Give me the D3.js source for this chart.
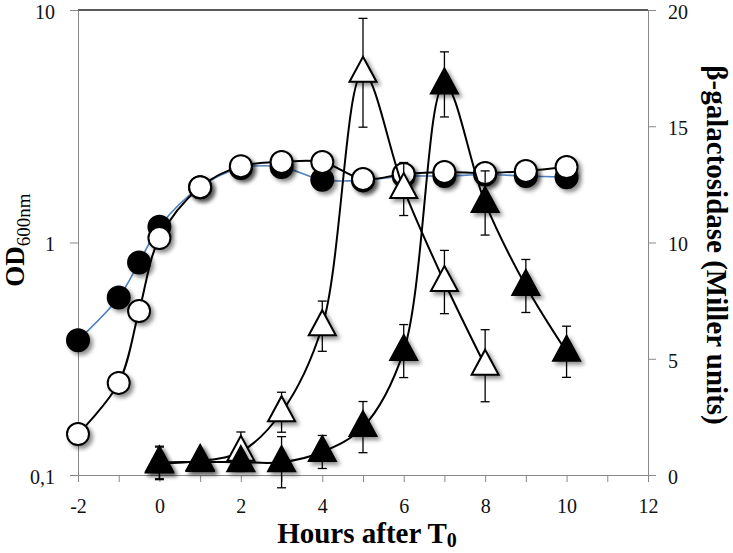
<!DOCTYPE html>
<html>
<head>
<meta charset="utf-8">
<script src="https://cdn.jsdelivr.net/npm/d3@7"></script>
<style>
  body { margin: 0; background: #fff; }
  text { font-family: "Liberation Serif", "Times New Roman", serif; }
</style>
</head>
<body>
<div id="chart"></div>
<script>
// hours after T0
var hoursOD = [-2, -1, -0.5, 0, 1, 2, 3, 4, 5, 6, 7, 8, 9, 10];
var odFilled = [0.38, 0.58, 0.82, 1.17, 1.73, 2.09, 2.11, 1.86, 1.85, 1.93, 1.93, 1.96, 1.93, 1.91];
var odOpen = [0.150, 0.249, 0.507, 1.045, 1.73, 2.13, 2.22, 2.22, 1.875, 1.97, 2.01, 1.99, 2.03, 2.11];

// beta-galactosidase (Miller units)
var hoursOpenTri = [0, 1, 2, 3, 4, 5, 6, 7, 8];
var galOpen = [0.5, 0.6, 1.0, 2.7, 6.4, 17.3, 12.3, 8.3, 4.7];
var galOpenErr = [0.7, 0.3, 0.85, 0.86, 1.08, 2.34, 1.14, 1.36, 1.55];
var hoursFilledTri = [0, 1, 2, 3, 4, 5, 6, 7, 8, 9, 10];
var galFilled = [0.54, 0.56, 0.55, 0.55, 0.99, 2.06, 5.33, 16.8, 11.7, 8.13, 5.3];
var galFilledErr = [0.7, 0.2, 0.3, 1.1, 0.71, 1.1, 1.14, 1.4, 1.38, 1.14, 1.1];

var xTicks = [-2, 0, 2, 4, 6, 8, 10, 12];
var xMinor = d3.range(-2, 13, 1);
var leftTicks = [0.1, 1, 10];
var leftLabels = ["0,1", "1", "10"];
var rightTicks = [0, 5, 10, 15, 20];

var width = 733, height = 553;
var plotL = 78, plotR = 648, plotT = 10, plotB = 475;

var svg = d3.select("#chart").append("svg")
  .attr("width", width)
  .attr("height", height);

var defs = svg.append("defs");
var f = defs.append("filter").attr("id", "shadow")
  .attr("x", "-50%").attr("y", "-50%").attr("width", "200%").attr("height", "200%");
f.append("feGaussianBlur").attr("in", "SourceAlpha").attr("stdDeviation", 2).attr("result", "b");
f.append("feOffset").attr("in", "b").attr("dx", 3).attr("dy", 3).attr("result", "o");
f.append("feComponentTransfer").attr("in", "o").attr("result", "s")
  .append("feFuncA").attr("type", "linear").attr("slope", 0.45);
var m = f.append("feMerge");
m.append("feMergeNode").attr("in", "s");
m.append("feMergeNode").attr("in", "SourceGraphic");

var x = d3.scaleLinear().domain([-2, 12]).range([plotL, plotR]);
var yL = d3.scaleLog().domain([0.1, 10]).range([plotB, plotT]);
var yR = d3.scaleLinear().domain([0, 20]).range([plotB, plotT]);

// top border
svg.append("line")
  .attr("x1", plotL).attr("x2", plotR).attr("y1", plotT).attr("y2", plotT)
  .attr("stroke", "#222").attr("stroke-width", 1.5);

// bottom axis
var gx = svg.append("g").attr("transform", "translate(0," + plotB + ")")
  .call(d3.axisBottom(x).tickValues(xMinor).tickSize(7).tickSizeOuter(0)
    .tickFormat(function (d) { return xTicks.indexOf(d) >= 0 ? d : ""; }));
gx.selectAll("text").attr("dy", "1.4em");

// left axis
var gl = svg.append("g").attr("transform", "translate(" + plotL + ",0)")
  .call(d3.axisLeft(yL).tickValues(leftTicks).tickSize(8).tickSizeOuter(0)
    .tickFormat(function (d, i) { return leftLabels[i]; }));
gl.selectAll("text").attr("x", -23).attr("dy", "0.42em");

// right axis
var gr = svg.append("g").attr("transform", "translate(" + plotR + ",0)")
  .call(d3.axisRight(yR).tickValues(rightTicks).tickSize(8).tickSizeOuter(0));
gr.selectAll("text").attr("x", 20).attr("dy", "0.42em");

svg.selectAll(".domain, .tick line").attr("stroke", "#888").attr("stroke-width", 1);
svg.selectAll(".tick text").style("font-size", "20px").attr("fill", "#111")
  .style("font-family", "'Liberation Serif', serif");

// axis titles
var xt = svg.append("text")
  .attr("x", 367).attr("y", 543)
  .attr("text-anchor", "middle")
  .style("font-size", "29px").style("font-weight", "bold")
  .text("Hours after T");
xt.append("tspan").attr("dy", 4).style("font-size", "20px").text("0");

var yt = svg.append("text")
  .attr("transform", "translate(24,240) rotate(-90)")
  .attr("text-anchor", "middle")
  .style("font-size", "27px").style("font-weight", "bold")
  .text("OD");
yt.append("tspan").attr("dy", 6).style("font-size", "19px").style("font-weight", "normal").text("600nm");

svg.append("text")
  .attr("transform", "translate(707,245) rotate(90)")
  .attr("text-anchor", "middle")
  .style("font-size", "29px").style("font-weight", "bold")
  .text("β-galactosidase (Miller units)");

var curve = d3.curveCatmullRom.alpha(0.5);

function circleSeries(xs, ys, lineColor, lineW, fill) {
  var pts = xs.map(function (h, i) { return [h, ys[i]]; });
  var g = svg.append("g");
  g.append("path")
    .attr("d", d3.line().curve(curve).x(function (d) { return x(d[0]); }).y(function (d) { return yL(d[1]); })(pts))
    .attr("fill", "none").attr("stroke", lineColor).attr("stroke-width", lineW);
  g.selectAll("circle").data(pts).enter().append("circle")
    .attr("cx", function (d) { return x(d[0]); })
    .attr("cy", function (d) { return yL(d[1]); })
    .attr("r", 11)
    .attr("fill", fill).attr("stroke", "#000").attr("stroke-width", 2)
    .attr("filter", "url(#shadow)");
}

function triSeries(xs, ys, errs, fill) {
  var pts = xs.map(function (h, i) { return [h, ys[i], errs[i]]; });
  var g = svg.append("g");
  g.append("path")
    .attr("d", d3.line().curve(curve).x(function (d) { return x(d[0]); }).y(function (d) { return yR(d[1]); })(pts))
    .attr("fill", "none").attr("stroke", "#000").attr("stroke-width", 2);
  var eb = g.selectAll(".err").data(pts).enter().append("g");
  eb.append("line")
    .attr("x1", function (d) { return x(d[0]); }).attr("x2", function (d) { return x(d[0]); })
    .attr("y1", function (d) { return yR(d[1] + d[2]); }).attr("y2", function (d) { return yR(d[1] - d[2]); })
    .attr("stroke", "#000").attr("stroke-width", 1.3);
  [1, -1].forEach(function (s) {
    eb.append("line")
      .attr("x1", function (d) { return x(d[0]) - 4.5; }).attr("x2", function (d) { return x(d[0]) + 4.5; })
      .attr("y1", function (d) { return yR(d[1] + s * d[2]); }).attr("y2", function (d) { return yR(d[1] + s * d[2]); })
      .attr("stroke", "#000").attr("stroke-width", 1.3);
  });
  g.selectAll(".tri").data(pts).enter().append("path")
    .attr("transform", function (d) { return "translate(" + x(d[0]) + "," + yR(d[1]) + ")"; })
    .attr("d", "M0,-16L13.5,9L-13.5,9Z")
    .attr("fill", fill).attr("stroke", "#000").attr("stroke-width", 2)
    .attr("stroke-linejoin", "miter")
    .attr("filter", "url(#shadow)");
}

circleSeries(hoursOD, odFilled, "#4f81bd", 1.6, "#000");
circleSeries(hoursOD, odOpen, "#000", 2, "#fff");
triSeries(hoursOpenTri, galOpen, galOpenErr, "#fff");
triSeries(hoursFilledTri, galFilled, galFilledErr, "#000");
</script>
</body>
</html>
